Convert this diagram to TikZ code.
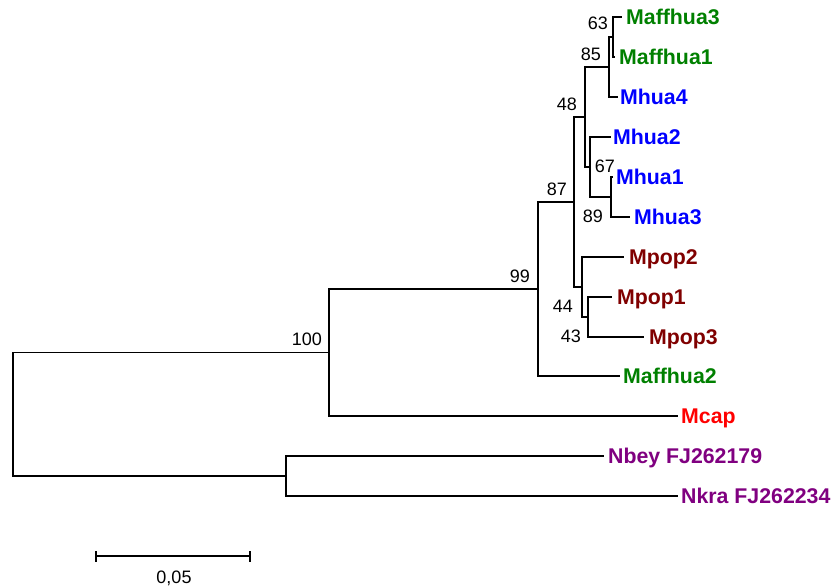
\documentclass[tikz,border=0pt]{standalone}
\usepackage{fontspec}
\setmainfont{Liberation Sans}
\definecolor{cgreen}{RGB}{0,128,0}
\definecolor{cblue}{RGB}{0,0,255}
\definecolor{cmaroon}{RGB}{128,0,0}
\definecolor{cred}{RGB}{255,0,0}
\definecolor{cpurple}{RGB}{128,0,128}
\begin{document}
\begin{tikzpicture}[x=1pt,y=-1pt,
  br/.style={line width=1.3pt,line cap=rect},
  leaf/.style={anchor=base west,inner sep=0pt,font=\fontsize{21.3}{24}\selectfont\bfseries},
  lbl/.style={anchor=base east,inner sep=0pt,font=\fontsize{18}{20}\selectfont}]
\useasboundingbox (0,0) rectangle (835,587);
% internal nodes
\coordinate (root) at (13,414.5);
\coordinate (n100) at (329,352.5);
\coordinate (n99) at (538,289);
\coordinate (n87) at (574,202);
\coordinate (n48) at (585,117);
\coordinate (n85) at (609,67);
\coordinate (n63) at (613,37);
\coordinate (n67) at (590,167);
\coordinate (n89) at (611,197);
\coordinate (n44) at (582,287);
\coordinate (n43) at (588,317);
\coordinate (nN) at (286,476);
% leaf tips
\coordinate (tMaffhua3) at (621,17);
\coordinate (tMaffhua1) at (614,57);
\coordinate (tMhua4) at (617,97);
\coordinate (tMhua2) at (610,137);
\coordinate (tMhua1) at (612,177);
\coordinate (tMhua3) at (629,217);
\coordinate (tMpop2) at (623,257);
\coordinate (tMpop1) at (611,297);
\coordinate (tMpop3) at (643,337);
\coordinate (tMaffhua2) at (619,376);
\coordinate (tMcap) at (677,416);
\coordinate (tNbey) at (603,456);
\coordinate (tNkra) at (677,496);
% branches
\draw[br] (root) |- (n100);
\draw[br] (root) |- (nN);
\draw[br] (n100) |- (n99);
\draw[br] (n100) |- (tMcap);
\draw[br] (n99) |- (n87);
\draw[br] (n99) |- (tMaffhua2);
\draw[br] (n87) |- (n48);
\draw[br] (n87) |- (n44);
\draw[br] (n48) |- (n85);
\draw[br] (n48) |- (n67);
\draw[br] (n85) |- (n63);
\draw[br] (n85) |- (tMhua4);
\draw[br] (n63) |- (tMaffhua3);
\draw[br] (n63) |- (tMaffhua1);
\draw[br] (n67) |- (tMhua2);
\draw[br] (n67) |- (n89);
\draw[br] (n89) |- (tMhua1);
\draw[br] (n89) |- (tMhua3);
\draw[br] (n44) |- (tMpop2);
\draw[br] (n44) |- (n43);
\draw[br] (n43) |- (tMpop1);
\draw[br] (n43) |- (tMpop3);
\draw[br] (nN) |- (tNbey);
\draw[br] (nN) |- (tNkra);
% leaf labels
\node[leaf,text=cgreen] (Maffhua3) at (626,24.7) {Maffhua3};
\node[leaf,text=cgreen] (Maffhua1) at (619,64.7) {Maffhua1};
\node[leaf,text=cblue] (Mhua4) at (620,104.7) {Mhua4};
\node[leaf,text=cblue] (Mhua2) at (613,144.7) {Mhua2};
\node[leaf,text=cblue] (Mhua1) at (616,184.7) {Mhua1};
\node[leaf,text=cblue] (Mhua3) at (634,224.7) {Mhua3};
\node[leaf,text=cmaroon] (Mpop2) at (629,264.7) {Mpop2};
\node[leaf,text=cmaroon] (Mpop1) at (617,304.7) {Mpop1};
\node[leaf,text=cmaroon] (Mpop3) at (649,344.7) {Mpop3};
\node[leaf,text=cgreen] (Maffhua2) at (623,383.7) {Maffhua2};
\node[leaf,text=cred] (Mcap) at (681,423.7) {Mcap};
\node[leaf,text=cpurple] (Nbey) at (608,463.7) {Nbey FJ262179};
\node[leaf,text=cpurple] (Nkra) at (681,503.7) {Nkra FJ262234};
% bootstrap values
\node[lbl] (b63) at (608,29) {63};
\node[lbl] (b85) at (601,60) {85};
\node[lbl] (b48) at (577,110) {48};
\node[lbl] (b67) at (615,172) {67};
\node[lbl] (b89) at (603,222) {89};
\node[lbl] (b87) at (567,195) {87};
\node[lbl] (b99) at (530,282) {99};
\node[lbl] (b44) at (573,312) {44};
\node[lbl] (b43) at (581,342) {43};
\node[lbl] (b100) at (322,345) {100};
% scale bar
\coordinate (s1) at (96,556);
\coordinate (s2) at (250,556);
\draw[br,line cap=butt] (s1) -- (s2);
\draw[br,line cap=butt] ([yshift=-5.5]s1) -- ([yshift=5.5]s1);
\draw[br,line cap=butt] ([yshift=-5.5]s2) -- ([yshift=5.5]s2);
\node[anchor=base,inner sep=0pt,font=\fontsize{18}{20}\selectfont] (scale) at (174,583) {0,05};
\end{tikzpicture}
\end{document}
